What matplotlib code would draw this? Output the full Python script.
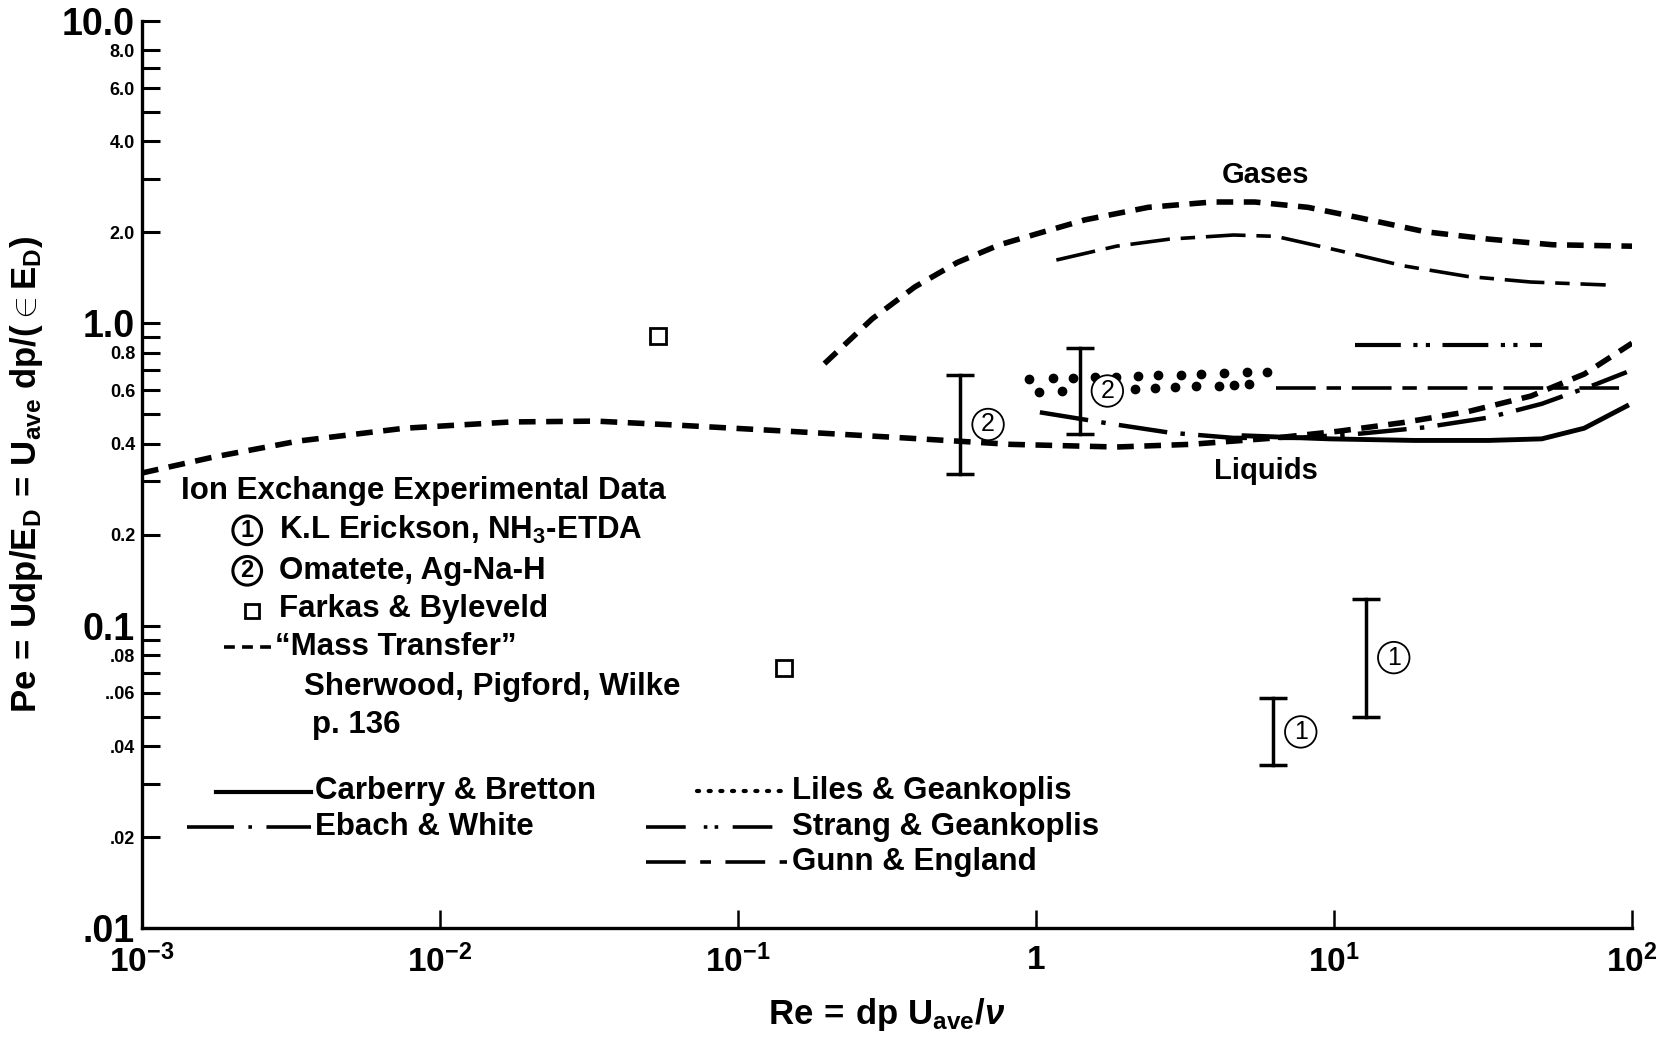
import matplotlib
matplotlib.use('Agg')
import matplotlib.pyplot as plt
from matplotlib.ticker import NullLocator

plt.rcParams['font.family'] = ['Liberation Sans', 'DejaVu Sans']
plt.rcParams['font.weight'] = 'bold'
plt.rcParams['axes.labelweight'] = 'bold'
plt.rcParams['mathtext.fontset'] = 'custom'
plt.rcParams['mathtext.rm'] = 'Liberation Sans:bold'
plt.rcParams['mathtext.bf'] = 'Liberation Sans:bold'
plt.rcParams['mathtext.it'] = 'Liberation Sans:bold:italic'
plt.rcParams['mathtext.default'] = 'rm'

# ---- data ----
# "Mass Transfer" (Sherwood, Pigford, Wilke) - gases branch
gases_re = [0.195, 0.282, 0.392, 0.544, 0.755, 1.01, 1.46, 2.38, 3.9, 5.42, 8.17, 12.3, 20.2, 33.0, 54.1, 100]
gases_pe = [0.736, 1.035, 1.32, 1.59, 1.82, 1.98, 2.20, 2.42, 2.52, 2.52, 2.42, 2.23, 2.01, 1.90, 1.82, 1.80]

# "Mass Transfer" - liquids branch
liquids_re = [0.001, 0.00173, 0.00334, 0.0076, 0.0173, 0.0334, 0.0643, 0.146, 0.361, 0.82, 1.86, 3.3, 6.38,
              10.4, 17.1, 28.0, 45.8, 69.2, 100]
liquids_pe = [0.32, 0.361, 0.408, 0.45, 0.472, 0.475, 0.46, 0.44, 0.418, 0.398, 0.39, 0.398, 0.418,
              0.44, 0.47, 0.51, 0.575, 0.68, 0.86]

# Gunn & England (gas and liquid)
gunn_gas_re = [1.17, 1.86, 2.81, 4.6, 6.38, 10.4, 17.1, 28.0, 45.8, 81.6]
gunn_gas_pe = [1.62, 1.80, 1.90, 1.96, 1.94, 1.74, 1.55, 1.43, 1.37, 1.34]
gunn_liq_re = [6.4, 96]
gunn_liq_pe = [0.612, 0.612]

# Strang & Geankoplis
strang_re = [11.8, 49.8]
strang_pe = [0.846, 0.846]

# Ebach & White
ebach_re = [1.03, 1.72, 2.81, 4.6, 7.53, 12.3, 20.2, 33.0, 49.8, 75.0, 96.0]
ebach_pe = [0.508, 0.468, 0.435, 0.418, 0.418, 0.432, 0.453, 0.488, 0.542, 0.627, 0.69]

# Carberry & Bretton
carberry_re = [4.99, 9.63, 18.6, 33.0, 49.8, 69.1, 96.0]
carberry_pe = [0.425, 0.415, 0.410, 0.410, 0.415, 0.45, 0.533]

# Liles & Geankoplis (two staggered rows of dots)
liles_top_re = [0.95, 1.14, 1.33, 1.58, 1.85, 2.20, 2.57, 3.07, 3.59, 4.27, 5.12, 5.98]
liles_top_pe = [0.655, 0.658, 0.66, 0.663, 0.666, 0.67, 0.673, 0.677, 0.68, 0.684, 0.688, 0.692]
liles_bot_re = [1.02, 1.22, 1.80, 2.15, 2.50, 2.92, 3.45, 4.10, 4.62, 5.20]
liles_bot_pe = [0.592, 0.596, 0.603, 0.607, 0.611, 0.615, 0.619, 0.623, 0.626, 0.628]

# Farkas & Byleveld squares
farkas_re = [0.054, 0.143]
farkas_pe = [0.91, 0.0727]

# ion exchange error bars: (Re, Pe low, Pe high, label)
bars_re = [0.557, 1.40, 6.24, 12.8]
bars_lo = [0.318, 0.43, 0.0345, 0.05]
bars_hi = [0.674, 0.83, 0.0575, 0.123]
bars_id = ['2', '2', '1', '1']

ytick_values = [10, 8, 7, 6, 5, 4, 3, 2,
                1, 0.9, 0.8, 0.7, 0.6, 0.5, 0.4, 0.3, 0.2,
                0.1, 0.09, 0.08, 0.07, 0.06, 0.05, 0.04, 0.03, 0.02, 0.01]
ytick_labels = ['10.0', '8.0', '', '6.0', '', '4.0', '', '2.0',
                '1.0', '', '0.8', '', '0.6', '', '0.4', '', '0.2',
                '0.1', '', '.08', '', '..06', '', '.04', '', '.02', '.01']
big_labels = ['10.0', '1.0', '0.1', '.01']
xtick_values = [1e-3, 1e-2, 1e-1, 1, 10, 100]
xtick_labels = [r'$10^{-3}$', r'$10^{-2}$', r'$10^{-1}$', '1', r'$10^{1}$', r'$10^{2}$']

# line styles
mass_ls = (0, (3.0, 1.9))
gunn_ls = (0, (11, 3, 4, 3))
strang_ls = (0, (11, 3, 1, 2, 1, 3))
ebach_ls = (0, (11, 3, 1, 3))

fig = plt.figure(figsize=(16.65, 10.41), dpi=100)
ax = fig.add_axes([0.0853, 0.1085, 0.8949, 0.8713])
ax.set_xscale('log')
ax.set_yscale('log')
ax.set_xlim(1e-3, 100)
ax.set_ylim(0.01, 10)

ax.plot(gases_re, gases_pe, color='black', lw=4, linestyle=mass_ls)
ax.plot(liquids_re, liquids_pe, color='black', lw=4, linestyle=mass_ls)
ax.plot(gunn_gas_re, gunn_gas_pe, color='black', lw=2.6, linestyle=gunn_ls)
ax.plot(gunn_liq_re, gunn_liq_pe, color='black', lw=2.6, linestyle=gunn_ls)
ax.plot(strang_re, strang_pe, color='black', lw=3, linestyle=strang_ls)
ax.plot(ebach_re, ebach_pe, color='black', lw=3.2, linestyle=ebach_ls)
ax.plot(carberry_re, carberry_pe, color='black', lw=3.5)
ax.plot(liles_top_re, liles_top_pe, 'o', color='black', ms=6)
ax.plot(liles_bot_re, liles_bot_pe, 'o', color='black', ms=6)
ax.plot(farkas_re, farkas_pe, 's', mfc='white', mec='black', mew=2, ms=11)

for re, lo, hi, num in zip(bars_re, bars_lo, bars_hi, bars_id):
    ax.plot([re, re], [lo, hi], color='black', lw=2.5, marker='_', ms=20, mew=2.5)
    mid = (lo * hi) ** 0.5
    ax.annotate(num, (re, mid), xytext=(15, 0), textcoords='offset points',
                ha='left', va='center', fontsize=18, fontweight='normal',
                bbox=dict(boxstyle='circle,pad=0.15', fc='white', ec='black', lw=1.3))

ax.text(5.9, 3.1, 'Gases', ha='center', va='center', fontsize=21)
ax.text(5.9, 0.325, 'Liquids', ha='center', va='center', fontsize=21)

# axes styling
for side in ['top', 'right']:
    ax.spines[side].set_visible(False)
for side in ['left', 'bottom']:
    ax.spines[side].set_linewidth(2.4)

ax.set_yticks(ytick_values)
ax.set_yticklabels(ytick_labels)
ax.yaxis.set_minor_locator(NullLocator())
ax.set_xticks(xtick_values)
ax.set_xticklabels(xtick_labels, fontsize=24)
ax.xaxis.set_minor_locator(NullLocator())
ax.tick_params(axis='y', direction='in', length=13, width=2.2, pad=5)
ax.tick_params(axis='x', direction='in', length=13, width=1.8, pad=12)
for lab in ax.get_yticklabels():
    if lab.get_text() in big_labels:
        lab.set_fontsize(27)
    else:
        lab.set_fontsize(13)

ax.set_xlabel(r'Re$\,=\,$dp U$_{\mathrm{ave}}$/$\it{\nu}$', fontsize=25, fontweight='bold', labelpad=12)
ax.set_ylabel(r'Pe$\,=\,$Udp/E$_{\mathrm{D}}$$\,=\,$U$_{\mathrm{ave}}$ dp/($\in$E$_{\mathrm{D}}$)',
              fontsize=25, fontweight='bold', labelpad=12)

# hand-drawn legend block
T = ax.transAxes
fs = 22.5
ax.text(0.0264, 0.4818, 'Ion Exchange Experimental Data', transform=T, fontsize=fs, va='center')
for fy, num, txt in [(0.4385, '1', r'K.L Erickson, NH$_3$-ETDA'), (0.3939, '2', 'Omatete, Ag-Na-H')]:
    ax.text(0.0706, fy, num, transform=T, fontsize=17, ha='center', va='center',
            bbox=dict(boxstyle='circle,pad=0.12', fc='white', ec='black', lw=2.2))
    ax.text(0.092, fy, txt, transform=T, fontsize=fs, va='center')
ax.plot([0.0735], [0.3494], 's', mfc='white', mec='black', mew=2, ms=10, transform=T)
ax.text(0.092, 0.3517, 'Farkas & Byleveld', transform=T, fontsize=fs, va='center')
ax.plot([0.0549, 0.087], [0.3095, 0.3095], color='black', lw=2.6, linestyle=(0, (3, 2)), transform=T)
ax.text(0.0892, 0.3095, '\u201cMass Transfer\u201d', transform=T, fontsize=fs, va='center')
ax.text(0.1084, 0.2661, 'Sherwood, Pigford, Wilke', transform=T, fontsize=fs, va='center')
ax.text(0.1141, 0.2239, 'p. 136', transform=T, fontsize=fs, va='center')

ax.plot([0.0499, 0.1134], [0.150, 0.150], color='black', lw=3, transform=T)
ax.text(0.1163, 0.1512, 'Carberry & Bretton', transform=T, fontsize=fs, va='center')
ax.plot([0.030, 0.1134], [0.1114, 0.1114], color='black', lw=2.6, linestyle=(0, (13, 4, 1, 4)), transform=T)
ax.text(0.1163, 0.1114, 'Ebach & White', transform=T, fontsize=fs, va='center')

ax.plot([0.3723, 0.433], [0.151, 0.151], color='black', lw=3, linestyle=(0, (0.5, 2.3)),
        dash_capstyle='round', transform=T)
ax.text(0.4365, 0.1512, 'Liles & Geankoplis', transform=T, fontsize=fs, va='center')
ax.plot([0.338, 0.433], [0.1114, 0.1114], color='black', lw=2.6, linestyle=(0, (11, 5, 1, 2, 1, 4)), transform=T)
ax.text(0.4365, 0.1114, 'Strang & Geankoplis', transform=T, fontsize=fs, va='center')
ax.plot([0.338, 0.433], [0.0727, 0.0727], color='black', lw=2.6, linestyle=(0, (11, 4, 3, 4)), transform=T)
ax.text(0.4365, 0.0727, 'Gunn & England', transform=T, fontsize=fs, va='center')

fig.savefig('out.png', dpi=100)
